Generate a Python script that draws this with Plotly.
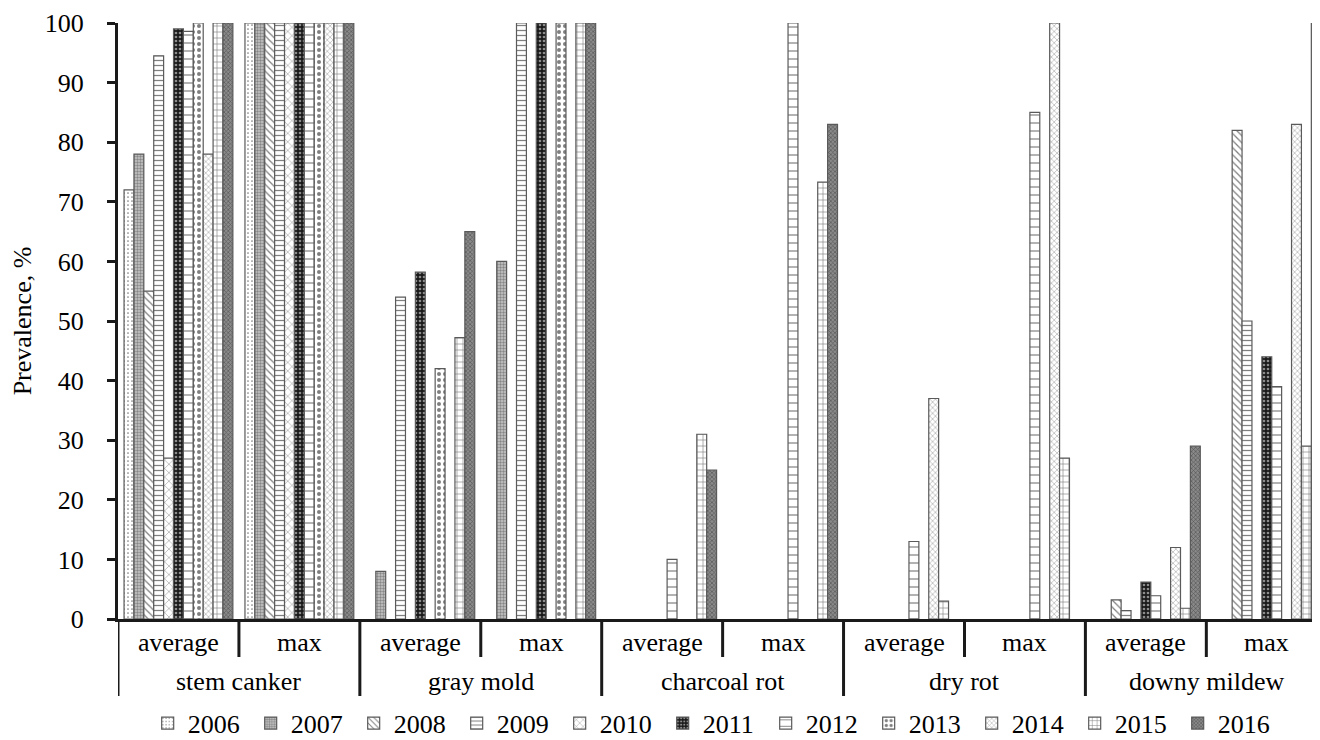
import plotly.graph_objects as go

diseases = ["stem canker", "gray mold", "charcoal rot", "dry rot", "downy mildew"]
stats = ["average", "max"]
years = ["2006", "2007", "2008", "2009", "2010", "2011", "2012", "2013", "2014", "2015", "2016"]

# values per year, ordered: stem canker avg, max, gray mold avg, max, charcoal rot avg, max,
# dry rot avg, max, downy mildew avg, max  (None = no bar)
v2006 = [72, 100, None, None, None, None, None, None, None, None]
v2007 = [78, 100, 8, 60, None, None, None, None, None, None]
v2008 = [55, 100, None, None, None, None, None, None, 3.2, 82]
v2009 = [94.5, 100, 54, 100, None, None, None, None, 1.4, 50]
v2010 = [27, 100, None, None, None, None, None, None, None, None]
v2011 = [99, 100, 58.2, 100, None, None, None, None, 6.2, 44]
v2012 = [98.6, 100, None, None, 10, 100, 13, 85, 3.9, 39]
v2013 = [100, 100, 42, 100, None, None, None, None, None, None]
v2014 = [78, 100, None, None, None, None, 37, 100, 12, 83]
v2015 = [100, 100, 47.2, 100, 31, 73.3, 3, 27, 1.8, 29]
v2016 = [100, 100, 65, 100, 25, 83, None, None, 29, 100]

series = [v2006, v2007, v2008, v2009, v2010, v2011, v2012, v2013, v2014, v2015, v2016]

styles = [
    dict(shape=".", fg="#000000", bg="#ffffff", size=4, sol=0.15),
    dict(shape=".", fg="#444444", bg="#c8c8c8", size=3, sol=0.5),
    dict(shape="\\", fg="#000000", bg="#ffffff", size=5, sol=0.25),
    dict(shape="-", fg="#000000", bg="#ffffff", size=5, sol=0.25),
    dict(shape="x", fg="#000000", bg="#ffffff", size=6, sol=0.15),
    dict(shape=".", fg="#ffffff", bg="#1a1a1a", size=4, sol=0.35),
    dict(shape="-", fg="#000000", bg="#ffffff", size=8, sol=0.15),
    dict(shape=".", fg="#000000", bg="#ffffff", size=6, sol=0.35),
    dict(shape="x", fg="#555555", bg="#ffffff", size=4, sol=0.3),
    dict(shape="+", fg="#000000", bg="#ffffff", size=6, sol=0.2),
    dict(shape="x", fg="#222222", bg="#8a8a8a", size=3, sol=0.4),
]

cats = [f"{d} | {s}" for d in diseases for s in stats]

FONT = "Liberation Serif, Times New Roman, serif"
FS = 26
PLOT_H = 596

fig = go.Figure()
for yr, vals, st in zip(years, series, styles):
    fig.add_trace(go.Bar(
        x=cats, y=vals, name=yr,
        marker=dict(
            color=st["bg"],
            line=dict(color="#5a5a5a", width=1.2),
            pattern=dict(shape=st["shape"], fgcolor=st["fg"], bgcolor=st["bg"],
                         size=st["size"], solidity=st["sol"], fillmode="overlay"),
        ),
    ))

shapes = []
n = len(cats)
y_mid = -38 / PLOT_H
y_low = -77 / PLOT_H
for i in range(n + 1):
    x = i - 0.5
    y_end = y_low if i % 2 == 0 else y_mid
    shapes.append(dict(type="line", xref="x", yref="paper", x0=x, x1=x, y0=0, y1=y_end,
                       line=dict(color="#1a1a1a", width=3)))

annotations = []
for i, c in enumerate(cats):
    annotations.append(dict(x=i, y=-23 / PLOT_H, xref="x", yref="paper", text=stats[i % 2],
                            showarrow=False, yanchor="middle",
                            font=dict(family=FONT, size=FS, color="black")))
for k, d in enumerate(diseases):
    annotations.append(dict(x=2 * k + 0.5, y=-62 / PLOT_H, xref="x", yref="paper", text=d,
                            showarrow=False, yanchor="middle",
                            font=dict(family=FONT, size=FS, color="black")))

fig.update_layout(
    width=1312, height=732,
    margin=dict(l=110, r=0, t=15, b=121),
    paper_bgcolor="white", plot_bgcolor="white",
    barmode="group", bargap=0.1, bargroupgap=0,
    font=dict(family=FONT, size=FS, color="black"),
    shapes=shapes, annotations=annotations,
    legend=dict(orientation="h", x=0.496, xanchor="center",
                yref="container", y=0.023, yanchor="middle",
                font=dict(family=FONT, size=FS), entrywidth=58, entrywidthmode="pixels",
                itemwidth=30),
    xaxis=dict(type="category", range=[-0.5, n - 0.56], showticklabels=False, ticks="",
               showline=True, linecolor="#1a1a1a", linewidth=3, showgrid=False, zeroline=False,
               automargin=False),
    yaxis=dict(range=[0, 100], dtick=10, ticks="outside", ticklen=8, tickcolor="#1a1a1a", tickwidth=2.5,
               showline=True, linecolor="#1a1a1a", linewidth=3, showgrid=False, zeroline=False,
               ticklabelstandoff=18, automargin=False,
               title=dict(text="Prevalence, %", font=dict(family=FONT, size=FS), standoff=11),
               tickfont=dict(family=FONT, size=FS)),
)

fig.write_html("out.html")
